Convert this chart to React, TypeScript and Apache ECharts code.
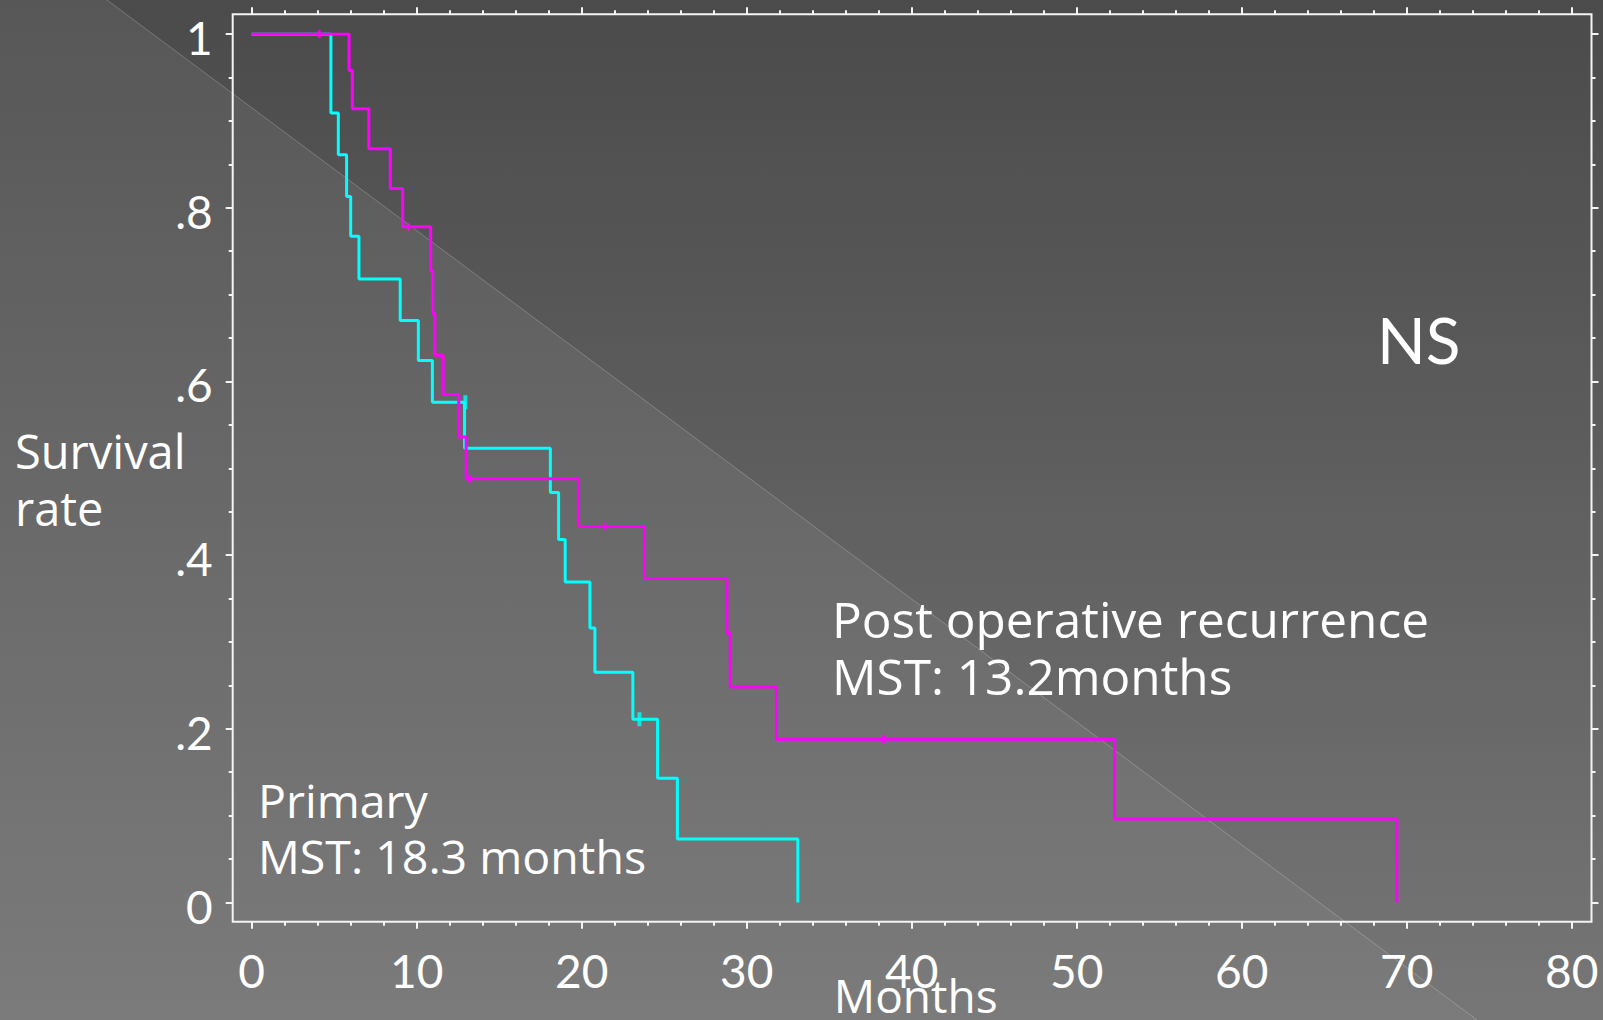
import React, { useEffect, useRef } from "react";
import * as echarts from "echarts";

// Kaplan-Meier steps: time (months) at which survival drops, and survival after the drop
const postOpTimes = [0, 5.9, 6.1, 7.1, 8.4, 9.15, 10.85, 10.97, 11.1, 11.6, 12.55, 13.0, 19.8, 23.8, 28.8, 29.0, 31.8, 52.3, 69.4];
const postOpSurvival = [1, 0.958, 0.914, 0.868, 0.822, 0.778, 0.727, 0.678, 0.63, 0.585, 0.536, 0.488, 0.433, 0.373, 0.31, 0.248, 0.188, 0.096, 0];
const primaryTimes = [0, 4.8, 5.25, 5.75, 6.0, 6.5, 9.0, 10.1, 10.95, 12.9, 18.1, 18.6, 19.0, 20.5, 20.8, 23.1, 24.6, 25.8, 33.1];
const primarySurvival = [1, 0.909, 0.861, 0.813, 0.767, 0.718, 0.67, 0.624, 0.576, 0.523, 0.472, 0.418, 0.369, 0.316, 0.265, 0.211, 0.143, 0.073, 0];

// censored observations
const postOpCensorTimes = [4.1, 9.5, 13.2, 21.4, 38.3];
const postOpCensorSurvival = [1, 0.778, 0.488, 0.433, 0.188];
const primaryCensorTimes = [12.95, 23.5];
const primaryCensorSurvival = [0.576, 0.211];

const xMin = 0;
const xMax = 80;
const xInterval = 10;
const yMin = 0;
const yMax = 1;
const yInterval = 0.2;

const yAxisTitle = "Survival\nrate";
const xAxisTitle = "Months";
const postOpLabel = "Post operative recurrence\nMST: 13.2months";
const primaryLabel = "Primary\nMST: 18.3 months";
const testLabel = "NS";

const FONT = "Lato, 'Noto Sans CJK JP', sans-serif";
const WIDE = "'Open Sans', 'Noto Sans CJK JP', sans-serif";

function yLabel(v: number): string {
  if (v === 0) return "0";
  if (v === 1) return "1";
  return v.toFixed(1).replace(/^0/, "");
}

export default function App() {
  const ref = useRef<HTMLDivElement>(null);
  useEffect(() => {
    if (!ref.current) return;
    const chart = echarts.init(ref.current, null, { renderer: "svg" });
    const postOpData = postOpTimes.map((t, i) => [t, postOpSurvival[i]]);
    const primaryData = primaryTimes.map((t, i) => [t, primarySurvival[i]]);
    const postOpCensor = postOpCensorTimes.map((t, i) => [t, postOpCensorSurvival[i]]);
    const primaryCensor = primaryCensorTimes.map((t, i) => [t, primaryCensorSurvival[i]]);

    const tickStyle = { lineStyle: { color: "#f4f4f4", width: 2 } };
    const baseX = {
      type: "value",
      min: xMin,
      max: xMax,
      interval: xInterval,
      splitLine: { show: false },
      axisLine: { show: false, onZero: false },
    };
    const baseY = {
      type: "value",
      min: yMin,
      max: yMax,
      interval: yInterval,
      splitLine: { show: false },
      axisLine: { show: false, onZero: false },
    };

    chart.setOption({
      animation: false,
      backgroundColor: "transparent",
      grid: {
        left: 251.7,
        right: 31.3,
        top: 34,
        bottom: 117.5,
        containLabel: false,
        outerBoundsMode: "none",
      },
      graphic: [
        {
          type: "rect",
          z: -100,
          silent: true,
          shape: { x: 0, y: 0, width: 1603, height: 1020 },
          style: {
            fill: new echarts.graphic.LinearGradient(0, 0, 0, 1, [
              { offset: 0, color: "#575757" },
              { offset: 1, color: "#7b7b7b" },
            ]),
          },
        },
        {
          type: "polygon",
          z: -99,
          silent: true,
          shape: { points: [[107, 0], [1603, 0], [1603, 1020], [1477, 1020]] },
          style: {
            fill: new echarts.graphic.LinearGradient(0, 0, 0, 1, [
              { offset: 0, color: "rgba(0,0,0,0.14)" },
              { offset: 1, color: "rgba(0,0,0,0.04)" },
            ]),
          },
        },
        {
          type: "line",
          z: -98,
          silent: true,
          shape: { x1: 107, y1: 0, x2: 1477, y2: 1020 },
          style: { stroke: "rgba(255,255,255,0.22)", lineWidth: 1 },
        },
        {
          type: "rect",
          z: 1,
          silent: true,
          shape: { x: 232.7, y: 14.3, width: 1358.8, height: 907.4 },
          style: { fill: "none", stroke: "#f4f4f4", lineWidth: 2 },
        },
        {
          type: "text",
          z: 5,
          left: 15,
          top: 422,
          style: { text: yAxisTitle, fill: "#ffffff", font: `47px ${WIDE}`, lineHeight: 57 },
        },
        {
          type: "text",
          z: 5,
          left: 832,
          top: 590,
          style: { text: postOpLabel, fill: "#ffffff", font: `49.5px ${WIDE}`, lineHeight: 57 },
        },
        {
          type: "text",
          z: 5,
          left: 258,
          top: 772,
          style: { text: primaryLabel, fill: "#ffffff", font: `46.5px ${WIDE}`, lineHeight: 56 },
        },
        {
          type: "text",
          z: 5,
          left: 1377,
          top: 307,
          style: { text: testLabel, fill: "#ffffff", font: `64px ${FONT}` },
        },
      ],
      xAxis: [
        {
          ...baseX,
          position: "bottom",
          offset: 19.2,
          axisTick: { show: true, inside: false, length: 7, ...tickStyle },
          minorTick: { show: true, splitNumber: 5, length: 4, ...tickStyle },
          axisLabel: { color: "#ffffff", fontSize: 46, fontFamily: FONT, margin: 26 },
          name: xAxisTitle,
          nameLocation: "middle",
          nameGap: 50,
          nameMoveOverlap: false,
          nameTextStyle: { color: "#ffffff", fontSize: 46, fontFamily: WIDE, padding: [0, 0, 0, 8] },
        },
        {
          ...baseX,
          position: "top",
          offset: 19.7,
          axisTick: { show: true, inside: false, length: 7, ...tickStyle },
          minorTick: { show: true, splitNumber: 5, length: 4, ...tickStyle },
          axisLabel: { show: false },
        },
      ],
      yAxis: [
        {
          ...baseY,
          position: "left",
          offset: 19,
          axisTick: { show: true, inside: false, length: 7, ...tickStyle },
          minorTick: { show: true, splitNumber: 4, length: 4, ...tickStyle },
          axisLabel: {
            margin: 20,
            formatter: (v: number) => `{v|${yLabel(v)}}`,
            rich: {
              v: {
                color: "#ffffff",
                fontSize: 46,
                fontFamily: FONT,
                padding: [7, 0, 0, 0],
              },
            },
          },
        },
        {
          ...baseY,
          position: "right",
          offset: 19.8,
          axisTick: { show: true, inside: false, length: 7, ...tickStyle },
          minorTick: { show: true, splitNumber: 4, length: 4, ...tickStyle },
          axisLabel: { show: false },
        },
      ],
      series: [
        {
          name: "Primary",
          type: "line",
          step: "end",
          data: primaryData,
          showSymbol: false,
          symbol: "none",
          lineStyle: { color: "#00ffff", width: 3 },
          z: 3,
        },
        {
          name: "Primary censored",
          type: "scatter",
          data: primaryCensor,
          symbol: "rect",
          symbolSize: [4, 14],
          itemStyle: { color: "#00ffff" },
          z: 3,
        },
        {
          name: "Post operative recurrence",
          type: "line",
          step: "end",
          data: postOpData,
          showSymbol: false,
          symbol: "none",
          lineStyle: { color: "#ff00ff", width: 3 },
          z: 4,
        },
        {
          name: "Post operative censored",
          type: "scatter",
          data: postOpCensor,
          symbol: "rect",
          symbolSize: [3, 8],
          itemStyle: { color: "#ff00ff" },
          z: 4,
        },
      ],
    });
    return () => chart.dispose();
  }, []);
  return (
    <div
      ref={ref}
      style={{ position: "absolute", left: 0, top: 0, width: 1603, height: 1020 }}
    />
  );
}
